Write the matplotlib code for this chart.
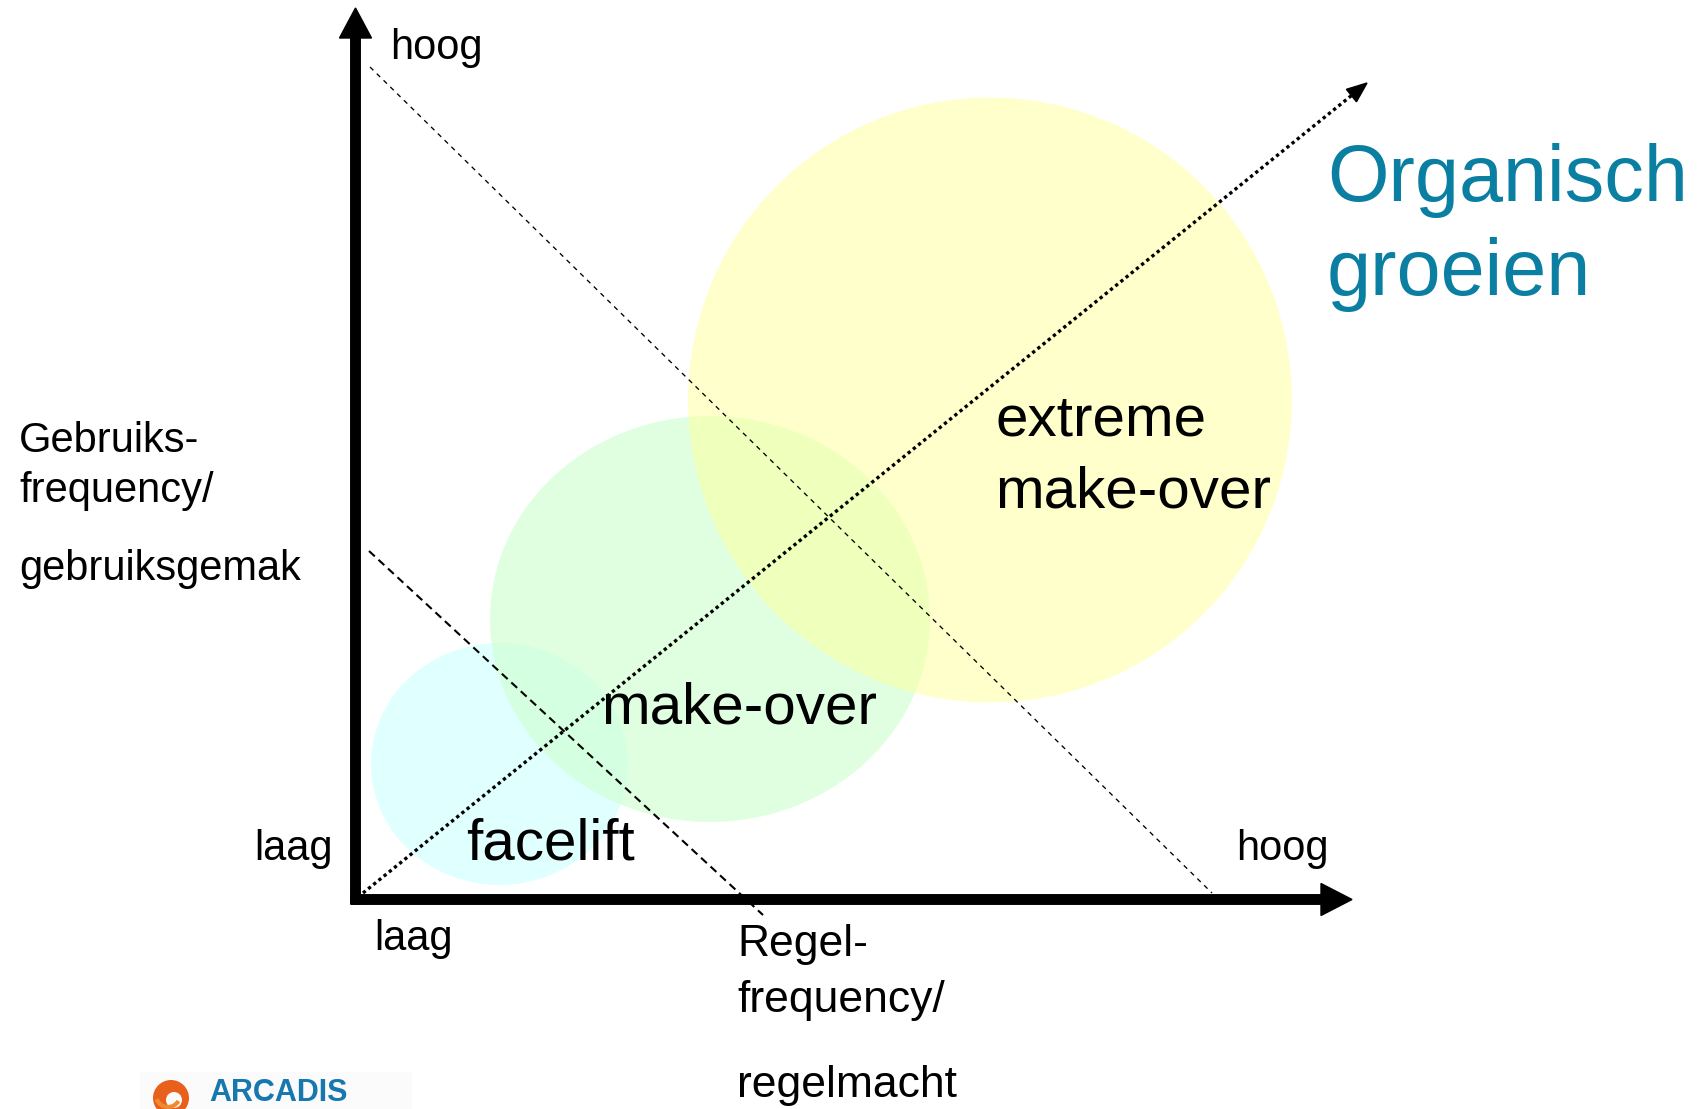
import numpy as np
import matplotlib
matplotlib.use("Agg")
import matplotlib.pyplot as plt
from matplotlib.patches import Ellipse, Circle, Rectangle, Arc

plt.rcParams['font.family'] = ['Liberation Sans', 'DejaVu Sans']

# ---- data (units: position relative to the axis origin) ----
stages = ['facelift', 'make-over', 'extreme\nmake-over']
stage_x = [144.0, 354.5, 634.5]        # Regel-frequency (centre)
stage_y = [135.5, 280.5, 499.5]        # Gebruiks-frequency (centre)
stage_w = [257.0, 440.0, 604.0]
stage_h = [242.0, 406.0, 605.0]
stage_colors = ['#CCFFFF', '#CCFFCC', '#FFFF99']

x_axis_label = ['Regel-', 'frequency/', '', 'regelmacht']
y_axis_label = ['Gebruiks-', 'frequency/', '', 'gebruiksgemak']
low_label, high_label = 'laag', 'hoog'
trend_label = 'Organisch\ngroeien'

trend_start = (7.5, 6.5)
trend_end = (1011.5, 816.5)
border_upper = [(14.5, 832.5), (856.5, 6.5)]
border_lower = [(13.5, 348.5), (407.5, -15.5)]
x_axis_end = 996.5
y_axis_end = 891.5

# ---- figure: one data unit == one pixel ----
W, H = 1701, 1109
ox, oy = 355.5, 899.5  # pixel position of origin (from top-left)
fig = plt.figure(figsize=(W / 100, H / 100), dpi=100)
ax = fig.add_axes([0, 0, 1, 1])
ax.set_xlim(-ox, W - ox)
ax.set_ylim(-(H - oy), oy)
ax.axis('off')

# bubbles
alphas = [0.6, 0.6, 0.5]
for i in range(len(stages)):
    ax.add_patch(Ellipse((stage_x[i], stage_y[i]), stage_w[i], stage_h[i],
                         facecolor=stage_colors[i], alpha=alphas[i],
                         edgecolor='none', zorder=1))

# dashed borders
(x0, y0), (x1, y1) = border_upper
ax.plot([x0, x1], [y0, y1], color='black', lw=0.95,
        linestyle=(0, (3.6, 3.6)), zorder=3)
(x0, y0), (x1, y1) = border_lower
ax.plot([x0, x1], [y0, y1], color='black', lw=1.5,
        linestyle=(0, (3.8, 2.4)), zorder=3)

# dotted trend arrow
sx, sy = trend_start
ex, ey = trend_end
d = np.array([ex - sx, ey - sy])
u = d / np.hypot(*d)
hl = 20
ax.plot([sx, ex - u[0] * hl * 0.6], [sy, ey - u[1] * hl * 0.6], color='black',
        lw=2.4, linestyle=(0, (1, 1)), dash_capstyle='butt', zorder=3)
ax.arrow(ex - u[0] * hl, ey - u[1] * hl, u[0] * hl, u[1] * hl, width=0.01,
         head_width=16, head_length=hl, length_includes_head=True,
         color='black', zorder=3)

# main axes arrows
ax.arrow(0, -4.5, 0, y_axis_end + 4.5, width=9.5, head_width=32, head_length=30,
         length_includes_head=True, color='black', zorder=4)
ax.arrow(-4.5, 0, x_axis_end + 4.5, 0, width=9.5, head_width=32, head_length=31,
         length_includes_head=True, color='black', zorder=4)

def P(x, y):
    return x - ox, oy - y

lab = dict(fontsize=30, color='black', zorder=6)
ax.text(*P(390, 59), high_label, ha='left', va='baseline', **lab)
ax.text(*P(1236, 860), high_label, ha='left', va='baseline', **lab)
ax.text(*P(333, 860), low_label, ha='right', va='baseline', **lab)
ax.text(*P(374, 950), low_label, ha='left', va='baseline', **lab)

for line, yb in zip(y_axis_label, [452, 502, 541, 580]):
    if line:
        ax.text(*P(19, yb), line, ha='left', va='baseline', **lab)
xl = dict(lab, fontsize=32)
for line, yb in zip(x_axis_label, [956, 1012, 1055, 1097]):
    if line:
        ax.text(*P(737, yb), line, ha='left', va='baseline', **xl)

big = dict(fontsize=42, color='black', zorder=6)
ax.text(*P(466, 860), stages[0], ha='left', va='baseline', **big)
ax.text(*P(601, 724), stages[1], ha='left', va='baseline', **big)
ext = stages[2].split('\n')
ax.text(*P(995, 436), ext[0], ha='left', va='baseline', **big)
ax.text(*P(995, 507), ext[1], ha='left', va='baseline', **big)

tl = trend_label.split('\n')
ax.text(*P(1327, 201), tl[0], ha='left', va='baseline', fontsize=57,
        color='#0A7FA2', zorder=6)
ax.text(*P(1327, 295), tl[1], ha='left', va='baseline', fontsize=57,
        color='#0A7FA2', zorder=6)

# logo
ax.add_patch(Rectangle(P(140, 1109), 272, 1109 - 1072, facecolor='#FBFBFB',
                       edgecolor='none', zorder=5))
ax.add_patch(Circle(P(171, 1098), 18, facecolor='#E8601C', edgecolor='none', zorder=6))
ax.add_patch(Circle(P(174, 1100), 8, facecolor='#FBFBFB', edgecolor='none', zorder=7))
ax.add_patch(Arc(P(168, 1095), 24, 24, theta1=200, theta2=330, color='#F08A30',
                 lw=3, zorder=7))
ax.text(*P(209, 1101), 'ARCADIS', ha='left', va='baseline', fontsize=22,
        fontweight='bold', color='#1678AE', zorder=8)

fig.savefig('out.png', dpi=100)
